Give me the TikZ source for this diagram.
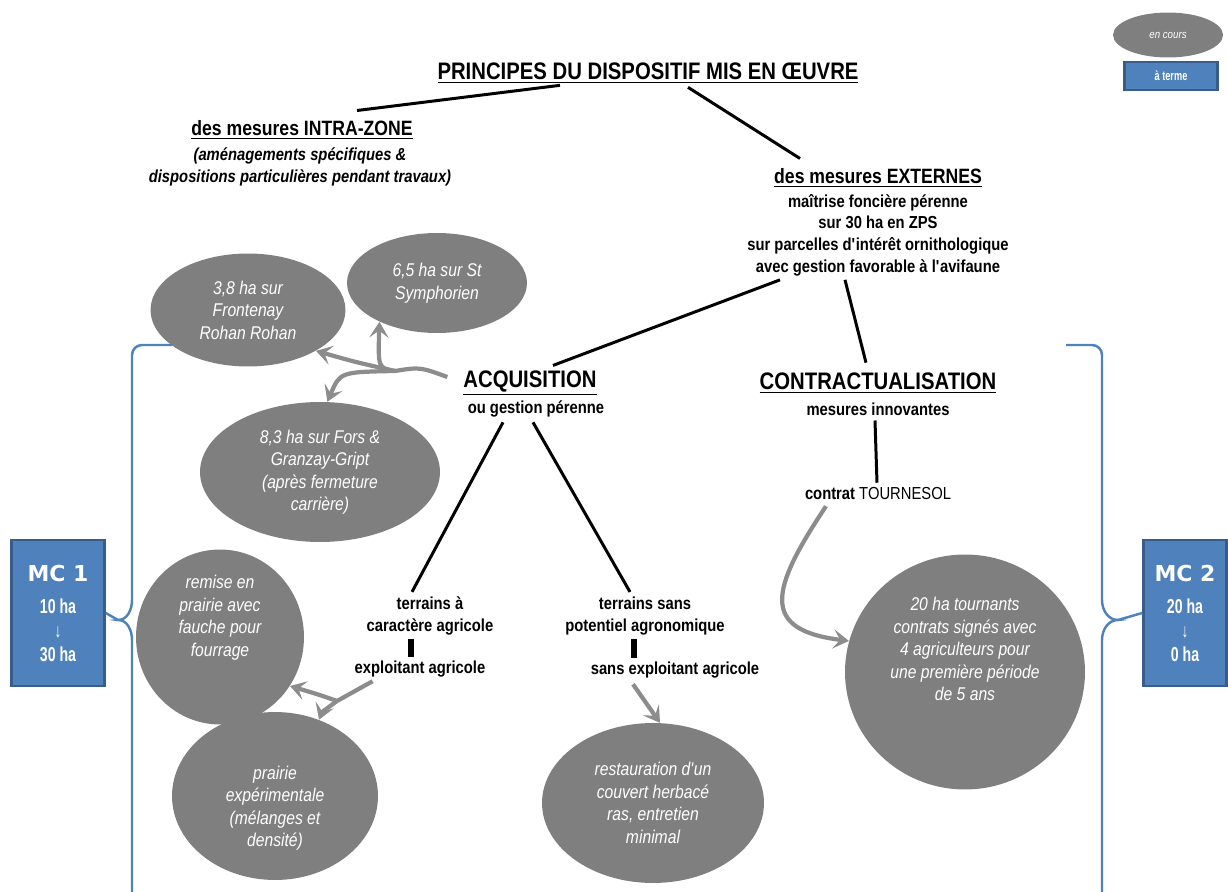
\documentclass[tikz,border=0pt]{standalone}
\usepackage{fontspec}
\setmainfont{Liberation Sans}[FakeStretch=0.85]
\newfontfamily\condfont{Liberation Sans}[FakeStretch=0.7]
\newfontfamily\heavyfont{DejaVu Sans}
\usetikzlibrary{arrows.meta, positioning, shapes.geometric, calc}
\definecolor{blobgray}{RGB}{127,127,127}
\definecolor{arrgray}{RGB}{140,140,140}
\definecolor{mcblue}{RGB}{79,129,189}
\definecolor{mcedge}{RGB}{56,93,138}
\newcommand{\mcbig}{\heavyfont\fontsize{12.5}{14}\selectfont\bfseries}
\newcommand{\mcsmall}{\condfont\fontsize{11.5}{11.5}\selectfont\bfseries}
\newcommand{\mcdown}{{\mdseries\fontsize{11}{11}\selectfont ↓}}

\begin{document}
\begin{tikzpicture}[
  x=0.02cm, y=-0.02cm,
  head/.style={font=\fontsize{13.6}{16}\selectfont\bfseries, inner sep=1pt},
  subhead/.style={font=\fontsize{11.8}{14}\selectfont\bfseries, inner sep=1pt},
  txt/.style={font=\fontsize{9.9}{12.3}\selectfont\bfseries, align=center, inner sep=1pt},
  note/.style={txt, font=\fontsize{9.9}{12.3}\selectfont\bfseries\itshape},
  blobtxt/.style={text=white, align=center, inner sep=0pt,
    font=\fontsize{10.5}{12.8}\selectfont\itshape},
  blob/.style={ellipse, fill=blobgray, blobtxt},
  mcbox/.style={draw=mcedge, line width=1.5pt, fill=mcblue, text=white,
    align=center, minimum height=2.92cm, inner sep=0pt, font=\mcsmall},
  link/.style={line width=1.7pt},
  bar/.style={line width=3.4pt},
  gline/.style={draw=arrgray, line width=2.4pt},
  garr/.style={gline, -{Stealth[length=9pt, width=11pt, inset=4pt]}},
  brace/.style={draw=mcblue, line width=1.4pt}
]
\useasboundingbox (0,0) rectangle (1228,892);

% legend
\node[blob, minimum width=2.2cm, minimum height=0.9cm,
  font=\fontsize{6.5}{8}\selectfont\itshape] (lgcours) at (1168,35) {en cours};
\node[mcbox, minimum width=1.86cm, minimum height=0.56cm,
  font=\condfont\fontsize{7.5}{9}\selectfont\bfseries] (lgterme) at (1171,76) {à terme};

% headings and texts
\node[head] (title) at (648,73) {\underline{PRINCIPES DU DISPOSITIF MIS EN ŒUVRE}};
\node[subhead] (intra) at (302,130) {\underline{des mesures INTRA-ZONE}};
\node[note] (intrab) at (300,167) {(aménagements spécifiques \&\\dispositions particulières pendant travaux)};
\node[subhead] (ext) at (878,178) {\underline{des mesures EXTERNES}};
\node[txt] (extb) at (878,235) {maîtrise foncière pérenne\\sur 30 ha en ZPS\\sur parcelles d\textquotesingle intérêt ornithologique\\avec gestion favorable à l\textquotesingle avifaune};
\node[head] (acq) at (530,383) {\underline{ACQUISITION}};
\node[txt] (acqb) at (536,409) {ou gestion pérenne};
\node[head] (contr) at (878,383) {\underline{CONTRACTUALISATION}};
\node[txt] (contrb) at (878,409) {mesures innovantes};
\node[txt] (tourn) at (878,494) {contrat \mdseries TOURNESOL};
\node[txt] (terr1) at (430,616) {terrains à\\caractère agricole};
\node[txt] (expl) at (420,669) {exploitant agricole};
\node[txt] (terr2) at (645,616) {terrains sans\\potentiel agronomique};
\node[txt] (sansexpl) at (675,670) {sans exploitant agricole};

% ellipses
\node[blob, minimum width=3.9cm, minimum height=2.26cm] (frontenay) at (248,310) {3,8 ha sur\\Frontenay\\Rohan Rohan};
\node[blob, minimum width=3.6cm, minimum height=2cm] (symph) at (437,283) {6,5 ha sur St\\Symphorien};
\node[blob, minimum width=4.8cm, minimum height=2.8cm] (fors) at (320,472) {8,3 ha sur Fors \&\\Granzay-Gript\\(après fermeture\\carrière)};
\node[blob, minimum width=3.36cm, minimum height=3.5cm,
  label={[blobtxt, yshift=11pt]center:{remise en\\prairie avec\\fauche pour\\fourrage}}] (remise) at (220,637) {};
\node[blob, minimum width=4.12cm, minimum height=3.36cm,
  label={[blobtxt, yshift=-7pt]center:{prairie\\expérimentale\\(mélanges et\\densité)}}] (prairie) at (275,796) {};
\node[blob, minimum width=4.44cm, minimum height=3.2cm] (restau) at (653,803) {restauration d\textquotesingle un\\couvert herbacé\\ras, entretien\\minimal};
\node[blob, minimum width=4.8cm, minimum height=4.7cm,
  label={[blobtxt, yshift=13pt]center:{20 ha tournants\\contrats signés avec\\4 agriculteurs pour\\une première période\\de 5 ans}}] (tournants) at (965,672) {};

% MC boxes and braces
\node[mcbox, minimum width=1.86cm] (mc1) at (58,613) {{\mcbig MC 1}\\[7pt]10 ha\\[2pt]\mcdown\\[2pt]30 ha};
\node[mcbox, minimum width=1.66cm] (mc2) at (1185,613) {{\mcbig MC 2}\\[7pt]20 ha\\[2pt]\mcdown\\[2pt]0 ha};
\coordinate (ltip) at (118,620);
\coordinate (rtip) at (1118,620);
\draw[brace] (172,345) -- (142,345) to[out=180,in=90] (132,355) -- (132,600)
  to[out=-90,in=0] (ltip) to[out=0,in=90] (132,640) -- (132,895);
\draw[brace] (1066,345) -- (1092,345) to[out=0,in=90] (1102,355) -- (1102,600)
  to[out=-90,in=180] (rtip) to[out=180,in=90] (1102,640) -- (1102,895);
\draw[brace] (mc1.east) -- (ltip);
\draw[brace] (rtip) -- (mc2.west);

% black links
\draw[link] ($(title.south)+(-88,0)$) -- ($(intra.north)+(55,-8)$);
\draw[link] ($(title.south)+(40,2)$) -- ($(ext.north)+(-78,-8)$);
\draw[link] ($(extb.south)+(-98,2)$) -- ($(acq.north)+(23,-3)$);
\draw[link] ($(extb.south)+(-33,2)$) -- ($(contr.north)+(-12,-8)$);
\draw[link] ($(contrb.south)+(-3,3)$) -- ($(tourn.north)+(-1,-3)$);
\draw[link] ($(acqb.south)+(-33,3)$) -- ($(terr1.north)+(-18,-3)$);
\draw[link] ($(acqb.south)+(-3,3)$) -- ($(terr2.north)+(-15,-3)$);
\draw[bar] ($(terr1.south)+(-19,2)$) -- ($(expl.north)+(-9,-2)$);
\draw[bar] ($(terr2.south)+(-11,2)$) -- ($(sansexpl.north)+(-41,-2)$);

% gray arrows
\coordinate (acqfork) at (395,371);
\draw[gline] ($(acq.west)+(-14,-6)$) .. controls (420,367) .. (acqfork);
\draw[garr] (acqfork) .. controls (378,368) .. (symph.214);
\draw[garr] (acqfork) .. controls (355,362) .. (frontenay.-31);
\draw[garr] (acqfork) .. controls (340,372) .. (fors.84);
\coordinate (explfork) at (337,701);
\draw[gline] ($(expl.south west)+(20,2)$) -- (explfork);
\draw[garr] (explfork) .. controls (320,695) .. (remise.-35);
\draw[garr] (explfork) .. controls (322,712) .. (prairie.60);
\draw[garr] ($(sansexpl.south)+(-42,4)$) -- (restau.85);
\draw[garr] ($(tourn.south)+(-52,4)$) .. controls (770,590) and (760,630) .. (tournants.165);
\end{tikzpicture}
\end{document}
